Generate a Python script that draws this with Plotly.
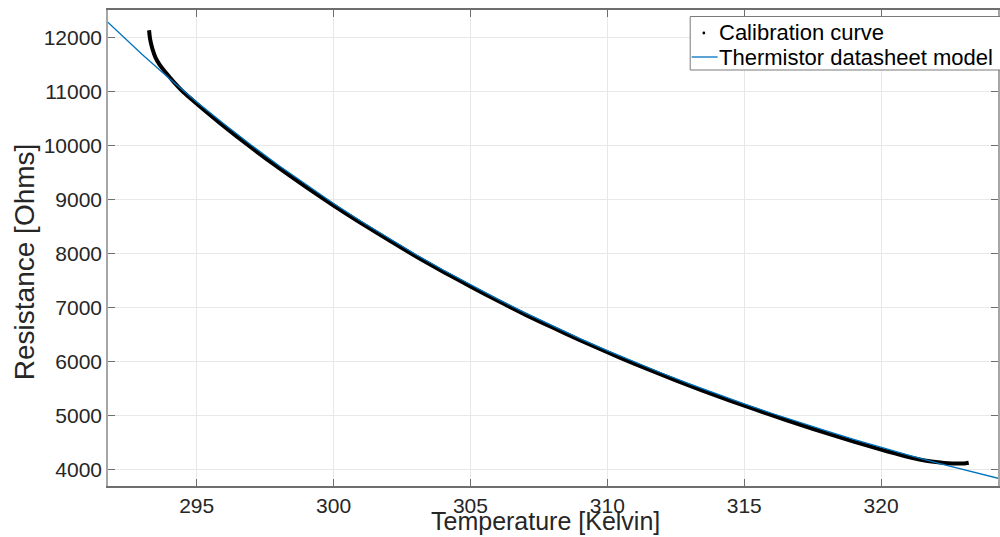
import plotly.graph_objects as go

cal_T = [293.26, 293.30, 293.38, 293.5, 293.65, 293.8, 294.0, 294.2, 294.5, 295, 296, 297, 298,
         299, 300, 301, 302, 303, 304, 305, 306, 307, 308, 309, 310, 311, 312, 313, 314, 315,
         316, 317, 318, 319, 320, 320.5, 321, 321.5, 322, 322.3, 322.6, 322.9, 323.1, 323.2]
cal_R = [12130, 11960, 11790, 11620, 11490, 11390, 11270, 11150, 10990, 10770, 10350, 9955, 9580,
         9225, 8885, 8560, 8250, 7945, 7660, 7385, 7120, 6865, 6625, 6390, 6168, 5952, 5748, 5550, 5360, 5178,
         5003, 4834, 4670, 4512, 4365, 4295, 4228, 4172, 4135, 4118, 4108, 4106, 4112, 4122]

# Thermistor datasheet model
mod_T = [291.5, 293, 294, 295, 296, 297, 298, 299, 300, 301, 302, 303, 304, 305, 306, 307, 308, 309,
         310, 311, 312, 313, 314, 315, 316, 317, 318, 319, 320, 321, 322, 323, 324.5]
mod_R = [12401, 11686, 11236, 10802, 10394, 10000, 9624, 9266, 8921, 8594, 8281, 7978, 7691, 7415,
         7151, 6897, 6656, 6421, 6198, 5984, 5779, 5583, 5393, 5212, 5038, 4870, 4710, 4554, 4405,
         4264, 4125, 3994, 3805]

x_ticks = [295, 300, 305, 310, 315, 320]
y_ticks = [4000, 5000, 6000, 7000, 8000, 9000, 10000, 11000, 12000]
y_ticktext = [str(v) for v in y_ticks]
legend_names = ["Calibration curve", "Thermistor datasheet model"]

FONT = "Liberation Sans, Arial, sans-serif"
BLUE = "#0072BD"
TXT = "#262626"

# plot area in pixels
L, R, T, B = 108, 1000, 10, 486
def px(x):
    return (x - L) / (R - L)
def py(y):
    return (B - y) / (B - T)

fig = go.Figure()
fig.add_trace(go.Scatter(x=cal_T, y=cal_R, mode="lines",
                         line=dict(color="black", width=4, shape="spline", smoothing=0.8),
                         name=legend_names[0], showlegend=False, hoverinfo="skip"))
fig.add_trace(go.Scatter(x=mod_T, y=mod_R, mode="lines", line=dict(color=BLUE, width=1.3),
                         name=legend_names[1], showlegend=False))

axis_common = dict(
    showgrid=True, gridcolor="#e8e8e8", gridwidth=1,
    zeroline=False, showline=True, linewidth=1.5,
    ticks="inside", ticklen=7, tickwidth=1, tickcolor="#6e6e6e",
    tickfont=dict(family=FONT, size=21, color=TXT),
    mirror="ticks",
)

shapes = [
    # legend box
    dict(type="rect", xref="paper", yref="paper", x0=px(691.5), x1=px(1003), y0=py(70), y1=py(16.5),
         fillcolor="white", line=dict(color="#7a7a7a", width=1), layer="above"),
    # legend marker (dot)
    dict(type="circle", xref="paper", yref="paper", x0=px(703.8), x1=px(706.6), y0=py(34.4), y1=py(31.6),
         fillcolor="black", line=dict(color="black", width=0), layer="above"),
    # legend line sample
    dict(type="line", xref="paper", yref="paper", x0=px(693), x1=px(719), y0=py(57), y1=py(57),
         line=dict(color=BLUE, width=1.3), layer="above"),
]

annotations = [
    dict(text=legend_names[0], xref="paper", yref="paper", x=px(718), y=py(32.5),
         xanchor="left", yanchor="middle", showarrow=False,
         font=dict(family=FONT, size=22, color="black")),
    dict(text=legend_names[1], xref="paper", yref="paper", x=px(718), y=py(57.5),
         xanchor="left", yanchor="middle", showarrow=False,
         font=dict(family=FONT, size=22, color="black")),
    dict(text="Temperature [Kelvin]", xref="paper", yref="paper", x=px(546.5), y=py(537),
         xanchor="center", yanchor="bottom", showarrow=False,
         font=dict(family=FONT, size=25, color=TXT)),
    dict(text="Resistance [Ohms]", xref="paper", yref="paper", x=px(24), y=py(262),
         xanchor="center", yanchor="middle", textangle=-90, showarrow=False,
         font=dict(family=FONT, size=28, color=TXT)),
]

fig.update_layout(
    width=1000, height=537,
    margin=dict(l=L, r=1000 - R, t=T, b=537 - B),
    paper_bgcolor="white", plot_bgcolor="white",
    font=dict(family=FONT, color=TXT),
    showlegend=False,
    xaxis=dict(range=[291.76, 324.27], tickvals=x_ticks, linecolor="#6e6e6e",
               **axis_common),
    yaxis=dict(range=[3691, 12505], tickvals=y_ticks, ticktext=y_ticktext, linecolor="#a6a6a6",
               **axis_common),
    shapes=shapes,
    annotations=annotations,
)

fig.write_html("out.html")
